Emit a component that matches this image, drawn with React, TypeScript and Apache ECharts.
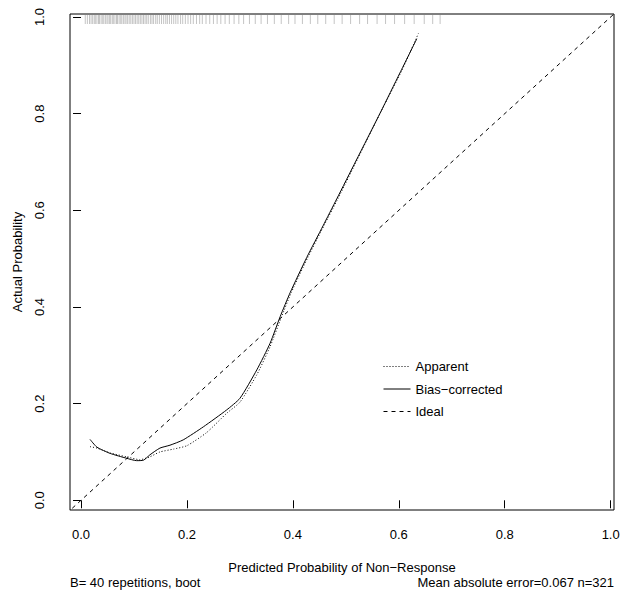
import React, { useEffect, useRef } from "react";
import * as echarts from "echarts";

const X_TICKS = [0, 0.2, 0.4, 0.6, 0.8, 1.0];
const Y_TICKS = [0, 0.2, 0.4, 0.6, 0.8, 1.0];

const biasX = [0.017, 0.030, 0.055, 0.086, 0.105, 0.118, 0.130, 0.149, 0.168, 0.193, 0.231, 0.275, 0.300, 0.332, 0.357, 0.376, 0.395, 0.426, 0.457, 0.483, 0.519, 0.566, 0.602, 0.634];
const biasY = [0.126, 0.110, 0.097, 0.087, 0.082, 0.083, 0.094, 0.108, 0.114, 0.125, 0.152, 0.187, 0.211, 0.270, 0.325, 0.380, 0.430, 0.502, 0.568, 0.624, 0.702, 0.804, 0.884, 0.955];

const appX = [0.017, 0.030, 0.055, 0.086, 0.111, 0.130, 0.149, 0.175, 0.200, 0.237, 0.275, 0.300, 0.332, 0.357, 0.378, 0.397, 0.428, 0.459, 0.486, 0.522, 0.569, 0.606, 0.637];
const appY = [0.111, 0.108, 0.098, 0.090, 0.084, 0.090, 0.100, 0.106, 0.113, 0.140, 0.180, 0.203, 0.260, 0.318, 0.378, 0.430, 0.502, 0.569, 0.626, 0.706, 0.810, 0.890, 0.966];

const idealX = [-0.05, 1.05];

const rugX = [0.008, 0.012, 0.016, 0.019, 0.022, 0.025, 0.027, 0.030, 0.033, 0.035, 0.038, 0.041, 0.043, 0.046, 0.049, 0.051, 0.054, 0.056, 0.059, 0.061, 0.064, 0.067, 0.069, 0.072, 0.075, 0.077, 0.080, 0.083, 0.085, 0.088, 0.091, 0.094, 0.097, 0.100, 0.103, 0.106, 0.109, 0.112, 0.115, 0.118, 0.121, 0.124, 0.127, 0.131, 0.134, 0.137, 0.141, 0.144, 0.148, 0.152, 0.156, 0.160, 0.163, 0.167, 0.171, 0.175, 0.179, 0.183, 0.188, 0.192, 0.197, 0.202, 0.207, 0.212, 0.218, 0.224, 0.229, 0.236, 0.243, 0.250, 0.257, 0.264, 0.272, 0.280, 0.289, 0.298, 0.307, 0.318, 0.329, 0.340, 0.352, 0.365, 0.378, 0.392, 0.404, 0.418, 0.433, 0.447, 0.462, 0.478, 0.493, 0.509, 0.526, 0.541, 0.559, 0.575, 0.592, 0.611, 0.629, 0.648, 0.664, 0.678];

const X_MIN = -0.0208;
const X_MAX = 1.0063;
const Y_MIN = -0.0201;
const Y_MAX = 1.0062;

const FONT = "Liberation Sans, Arial, Helvetica, sans-serif";

export default function App() {
  const ref = useRef<HTMLDivElement>(null);
  useEffect(() => {
    document.body.style.margin = "0";
    if (!ref.current) return;
    const chart = echarts.init(ref.current, undefined, { renderer: "svg" });
    const zip = (xs: number[], ys: number[]) => xs.map((x, i) => [x, ys[i]]);
    chart.setOption({
      animation: false,
      backgroundColor: "#fff",
      textStyle: { fontFamily: FONT },
      grid: {
        left: 70, right: 15, top: 14, bottom: 90,
        show: true, borderColor: "#000", borderWidth: 1, backgroundColor: "transparent",
      },
      xAxis: {
        type: "value", min: X_MIN, max: X_MAX,
        name: "Predicted Probability of Non\u2212Response",
        nameLocation: "middle", nameGap: 51,
        nameTextStyle: { fontSize: 13, color: "#000", fontFamily: FONT },
        axisLine: { show: false },
        axisTick: { show: true, length: 8, lineStyle: { color: "#000" }, customValues: X_TICKS },
        axisLabel: {
          fontSize: 13, color: "#000", fontFamily: FONT, margin: 18,
          customValues: X_TICKS, formatter: (v: number) => v.toFixed(1),
        },
        splitLine: { show: false },
      },
      yAxis: {
        type: "value", min: Y_MIN, max: Y_MAX,
        name: "Actual Probability",
        nameLocation: "middle", nameGap: 46,
        nameTextStyle: { fontSize: 13, color: "#000", fontFamily: FONT },
        axisLine: { show: false },
        axisTick: { show: true, length: 8, lineStyle: { color: "#000" }, customValues: Y_TICKS },
        axisLabel: {
          fontSize: 13, color: "#000", fontFamily: FONT, margin: 24, rotate: 90,
          customValues: Y_TICKS, formatter: (v: number) => v.toFixed(1),
        },
        splitLine: { show: false },
      },
      legend: {
        orient: "vertical", left: 378, top: 355,
        itemWidth: 27, itemHeight: 14, itemGap: 9.5,
        data: ["Apparent", "Bias\u2212corrected", "Ideal"],
        itemStyle: { opacity: 0 },
        lineStyle: { width: 1 },
        textStyle: { fontSize: 13, color: "#000", fontFamily: FONT },
        selectedMode: false,
      },
      graphic: [
        { type: "text", left: 70, top: 576, style: { text: "B= 40 repetitions, boot", font: `13px ${FONT}`, fill: "#000" } },
        { type: "text", right: 15, top: 576, style: { text: "Mean absolute error=0.067 n=321", font: `13px ${FONT}`, fill: "#000" } },
      ],
      series: [
        {
          type: "custom", name: "rug", silent: true,
          data: rugX.map((x) => [x]),
          renderItem: (params: any, api: any) => {
            const p = api.coord([api.value(0), Y_MAX]);
            return {
              type: "line",
              shape: { x1: p[0], y1: p[1] + 1, x2: p[0], y2: p[1] + 10 },
              style: { stroke: "#c4c4c4", lineWidth: 1 },
            };
          },
        },
        {
          type: "line", name: "Apparent", data: zip(appX, appY), symbol: "none", smooth: 0.2,
          lineStyle: { color: "#000", width: 1, type: [1, 2] }, itemStyle: { color: "#000" },
        },
        {
          type: "line", name: "Bias\u2212corrected", data: zip(biasX, biasY), symbol: "none", smooth: 0.2,
          lineStyle: { color: "#000", width: 1, type: "solid" }, itemStyle: { color: "#000" },
        },
        {
          type: "line", name: "Ideal", data: zip(idealX, idealX), symbol: "none",
          lineStyle: { color: "#000", width: 1, type: [4, 4] }, itemStyle: { color: "#000" },
        },
      ],
    });
    return () => chart.dispose();
  }, []);
  return <div ref={ref} style={{ width: 629, height: 600, position: "absolute", left: 0, top: 0 }} />;
}
